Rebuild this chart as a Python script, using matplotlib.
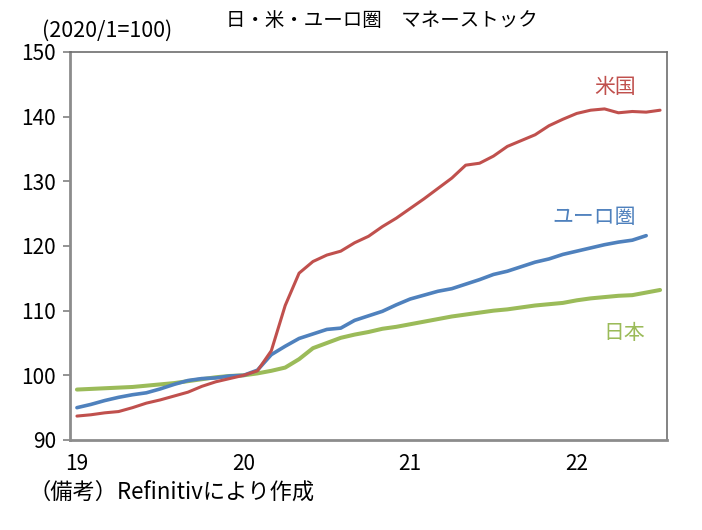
import matplotlib
matplotlib.use("Agg")
import matplotlib.pyplot as plt
import numpy as np

plt.rcParams["font.family"] = ["Noto Sans CJK JP", "DejaVu Sans"]

# monthly index, 2019/1 .. 2022/7 (2020/1 = 100)
us = [93.7, 93.9, 94.2, 94.4, 95.0, 95.7, 96.2, 96.8, 97.4, 98.3, 99.0, 99.5,
      100.0, 100.7, 103.8, 110.8, 115.8, 117.6, 118.6, 119.2, 120.5, 121.5, 123.0, 124.3,
      125.8, 127.3, 128.9, 130.5, 132.5, 132.8, 133.9, 135.4, 136.3, 137.2, 138.6, 139.6,
      140.5, 141.0, 141.2, 140.6, 140.8, 140.7, 141.0]
euro = [95.0, 95.5, 96.1, 96.6, 97.0, 97.3, 97.9, 98.6, 99.2, 99.5, 99.6, 99.9,
        100.0, 100.8, 103.2, 104.5, 105.7, 106.4, 107.1, 107.3, 108.5, 109.2, 109.9, 110.9,
        111.8, 112.4, 113.0, 113.4, 114.1, 114.8, 115.6, 116.1, 116.8, 117.5, 118.0, 118.7,
        119.2, 119.7, 120.2, 120.6, 120.9, 121.6]
japan = [97.8, 97.9, 98.0, 98.1, 98.2, 98.4, 98.6, 98.8, 99.1, 99.4, 99.7, 99.9,
         100.0, 100.3, 100.7, 101.2, 102.5, 104.2, 105.0, 105.8, 106.3, 106.7, 107.2, 107.5,
         107.9, 108.3, 108.7, 109.1, 109.4, 109.7, 110.0, 110.2, 110.5, 110.8, 111.0, 111.2,
         111.6, 111.9, 112.1, 112.3, 112.4, 112.8, 113.2]
year_labels = ["19", "20", "21", "22"]

RED, BLUE, GREEN = "#C0504D", "#4F81BD", "#9BBB59"
W, H = 702, 530

fig = plt.figure(figsize=(W / 100, H / 100), dpi=100)
ax = fig.add_axes([70 / W, 1 - 440 / H, 597 / W, 388 / H])

ax.plot(np.arange(len(japan)), japan, color=GREEN, lw=2.9, solid_capstyle="round")
ax.plot(np.arange(len(euro)), euro, color=BLUE, lw=2.6, solid_capstyle="round")
ax.plot(np.arange(len(us)), us, color=RED, lw=2.2, solid_capstyle="round")

ax.set_xlim(-0.5, 42.5)
ax.set_ylim(90, 150)
ax.set_yticks(np.arange(90, 151, 10))
ax.set_xticks(np.arange(len(year_labels)) * 12)
ax.set_xticklabels(year_labels)

ax.tick_params(axis="y", direction="out", length=5, width=1.2, color="#808080",
               labelsize=15, pad=5)
ax.tick_params(axis="x", length=0, labelsize=15, pad=9)
for side in ["left", "bottom"]:
    ax.spines[side].set_color("#8c8c8c")
    ax.spines[side].set_linewidth(2)
for side in ["top", "right"]:
    ax.spines[side].set_color("#6e6e6e")
    ax.spines[side].set_linewidth(1.2)


def px_text(x, y, s, **kw):
    fig.text(x / W, 1 - y / H, s, ha="center", va="center", **kw)


px_text(615, 87, "米国", color=RED, fontsize=15)
px_text(594, 217, "ユーロ圏", color=BLUE, fontsize=15)
px_text(624, 333, "日本", color=GREEN, fontsize=15)

px_text(382, 21, "日・米・ユーロ圏　マネーストック", fontsize=14)
fig.text(42 / W, 1 - 31 / H, "(2020/1=100)", fontsize=15.5, ha="left", va="center")
fig.text(28 / W, 1 - 492 / H, "（備考）Refinitivにより作成", fontsize=16,
         ha="left", va="center")

fig.savefig("out.png", dpi=100)
